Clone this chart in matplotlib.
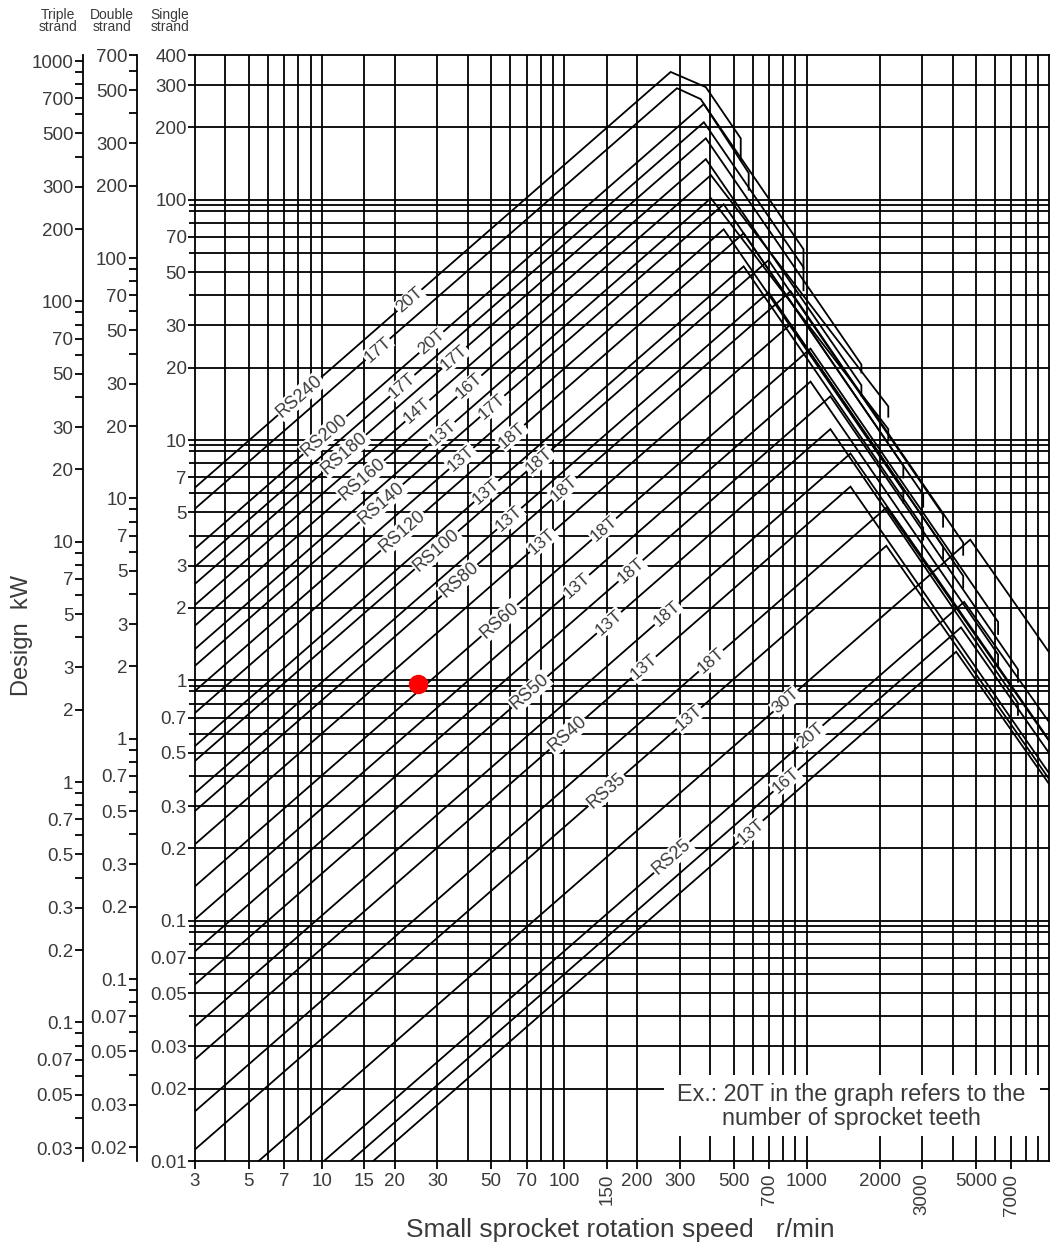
import numpy as np
import matplotlib.pyplot as plt
from matplotlib.patches import Rectangle
from matplotlib.ticker import FixedLocator, FixedFormatter, NullLocator

plt.rcParams['font.family'] = ['Liberation Sans', 'DejaVu Sans']

TEXT = '#3a3a3a'
LW = 1.3

# axis ranges / ticks
X_TICKS = [3, 5, 7, 10, 15, 20, 30, 50, 70, 100, 150, 200, 300, 500, 700,
           1000, 2000, 3000, 5000, 7000]
X_ROTATED = [150, 700, 3000, 7000]
GRID_RPM = [4, 5, 6, 7, 8, 9, 10, 15, 20, 30, 40, 50, 60, 70, 80, 90, 100, 150,
            200, 300, 400, 500, 600, 700, 800, 900, 1000, 2000, 3000, 4000,
            5000, 6000, 7000, 8000, 9000]
KW_TICKS = [400, 300, 200, 100, 70, 50, 30, 20, 10, 7, 5, 3, 2, 1, 0.7, 0.5,
            0.3, 0.2, 0.1, 0.07, 0.05, 0.03, 0.02, 0.01]
GRID_MANT = [1, 0.95, 0.9, 0.8, 0.7, 0.6, 0.5, 0.4, 0.3, 0.2]
GRID_KW = [300, 200] + [m * 10.0 ** k for k in (2, 1, 0, -1) for m in GRID_MANT]

DOUBLE_TICKS = [700, 500, 300, 200, 100, 70, 50, 30, 20, 10, 7, 5, 3, 2, 1,
                0.7, 0.5, 0.3, 0.2, 0.1, 0.07, 0.05, 0.03, 0.02]
TRIPLE_TICKS = [1000, 700, 500, 300, 200, 100, 70, 50, 30, 20, 10, 7, 5, 3, 2,
                1, 0.7, 0.5, 0.3, 0.2, 0.1, 0.07, 0.05, 0.03]
MINOR_MANT = [9, 8, 6, 4]

# chain rating lines (rpm / kW)
LINE_CHAIN = ['RS240', 'RS240', 'RS200', 'RS200', 'RS180', 'RS180', 'RS160', 'RS160',
              'RS140', 'RS140', 'RS120', 'RS120', 'RS100', 'RS100', 'RS80', 'RS80',
              'RS60', 'RS60', 'RS50', 'RS50', 'RS40', 'RS40', 'RS35', 'RS35',
              'RS25', 'RS25', 'RS25', 'RS25']
LINE_TEETH = ['20T', '17T', '20T', '17T', '17T', '14T', '16T', '13T',
              '17T', '13T', '18T', '13T', '18T', '13T', '18T', '13T',
              '18T', '13T', '18T', '13T', '18T', '13T', '18T', '13T',
              '30T', '20T', '16T', '13T']
KW_AT_3RPM = [6.34, 5.18, 3.53, 2.97, 2.52, 2.06, 1.69, 1.35,
              1.15, 0.904, 0.732, 0.533, 0.462, 0.340, 0.286, 0.208,
              0.139, 0.1014, 0.0746, 0.0543, 0.0363, 0.0265, 0.0161, 0.01117,
              0.00587, 0.0034, 0.00272, 0.00225]
PEAK_RPM = [275, 292, 377, 377, 384, 384, 403, 403,
            455, 455, 550, 550, 697, 697, 859, 859,
            1038, 1038, 1254, 1254, 1517, 1517, 2133, 2133,
            4732, 4467, 4335, 4140]
PEAK_KW = [340, 291, 250, 210, 180, 147.5, 126.5, 101.4,
           95.7, 75.3, 72.5, 52.8, 56.0, 41.2, 41.6, 30.3,
           24.0, 17.5, 15.2, 11.1, 8.79, 6.40, 5.23, 3.63,
           3.85, 2.12, 1.66, 1.315]
KNEE_RPM = [384, 366] + [None] * 26
KNEE_KW = [294, 262] + [None] * 26
END_RPM = [535, 577, 971, 971, 1683, 1683, 2173, 2173,
           2506, 2506, 3027, 3027, 3656, 3656, 4426, 4426,
           6166, 6166, 7447, 7447, 10000, 10000, 10000, 10000,
           10000, 10000, 10000, 10000]
END_KW = [180, 129, 62.2, 52.3, 20.6, 16.9, 13.8, 11.1,
          7.83, 6.16, 5.93, 4.32, 4.89, 3.60, 3.74, 2.72,
          1.75, 1.28, 1.11, 0.805, 0.565, 0.411, 0.560, 0.389,
          1.31, 0.671, 0.499, 0.371]
DROP_KW = [146, 110, 51.8, 42.0, 19.1, 15.3, 12.5, 9.95,
           6.98, 5.49, 5.28, 3.85, 4.36, 3.21, 3.33, 2.43,
           1.56, 1.14, 0.986, 0.718, None, None, None, None,
           None, None, None, None]

# chain name labels: (line index, rpm along the line)
CHAIN_LABEL_LINE = [0, 2, 4, 6, 8, 10, 12, 14, 16, 19, 21, 23, 25]
CHAIN_LABEL_RPM = [8.1, 10.3, 12.4, 14.7, 17.6, 21.5, 29.7, 37, 54, 72, 103, 149, 278]
# teeth labels
TEETH_LABEL_LINE = [1, 0, 3, 2, 5, 4, 7, 6, 9, 8, 11, 10, 13, 12, 15, 14,
                    17, 16, 19, 18, 21, 20, 23, 22, 27, 26, 25, 24]
TEETH_LABEL_RPM = [17, 23, 21.5, 28.3, 24.8, 35.2, 31.5, 40.6, 37.6, 50.5,
                   47.7, 61, 59.3, 78.8, 81, 100, 113, 146, 153, 188,
                   213, 265, 327, 403, 588, 819, 1038, 819]

EXAMPLE_RPM, EXAMPLE_KW = 25, 0.97

W, H = 1050, 1251
fig = plt.figure(figsize=(W / 100, H / 100), dpi=100)


def fx(px):
    return px / W


def fy(py):
    return 1 - py / H


TOP, BOT = 55, 1161
ax = fig.add_axes([fx(195), fy(BOT), fx(1049) - fx(195), fy(TOP) - fy(BOT)])
ax.set_xscale('log')
ax.set_yscale('log')
ax.set_xlim(3, 10000)
ax.set_ylim(0.01, 400)

ax.vlines(GRID_RPM, 0.01, 400, color='k', lw=LW, zorder=1)
ax.hlines(GRID_KW, 3, 10000, color='k', lw=LW, zorder=1)

lines_xy = []
for i in range(len(LINE_CHAIN)):
    xs = [3, PEAK_RPM[i]]
    ys = [KW_AT_3RPM[i], PEAK_KW[i]]
    if KNEE_RPM[i] is not None:
        xs.append(KNEE_RPM[i])
        ys.append(KNEE_KW[i])
    xs.append(END_RPM[i])
    ys.append(END_KW[i])
    if DROP_KW[i] is not None:
        xs.append(END_RPM[i])
        ys.append(DROP_KW[i])
    ax.plot(xs, ys, color='k', lw=LW, zorder=2, solid_joinstyle='miter')
    lines_xy.append((xs, ys))


def on_line(i, rpm):
    xs, ys = lines_xy[i]
    return 10 ** np.interp(np.log10(rpm), np.log10(xs[:2]), np.log10(ys[:2]))


label_box = dict(facecolor='white', edgecolor='none', pad=0.8)
for i, rpm in zip(CHAIN_LABEL_LINE, CHAIN_LABEL_RPM):
    ax.text(rpm, on_line(i, rpm), LINE_CHAIN[i], rotation=41, fontsize=13,
            color=TEXT, ha='center', va='center', rotation_mode='anchor',
            bbox=label_box, zorder=4)
for i, rpm in zip(TEETH_LABEL_LINE, TEETH_LABEL_RPM):
    ax.text(rpm, on_line(i, rpm), LINE_TEETH[i], rotation=41, fontsize=12.5,
            color=TEXT, ha='center', va='center', rotation_mode='anchor',
            bbox=label_box, zorder=4)

ax.plot(EXAMPLE_RPM, EXAMPLE_KW, 'o', color='#ff0000', ms=14, mec='none', zorder=5)

# note box
ax.add_patch(Rectangle((258, 0.01265), 9180 - 258, 0.0229 - 0.01265,
                       facecolor='white', edgecolor='none', zorder=3))
ax.text(1531, 0.01687, 'Ex.: 20T in the graph refers to the\nnumber of sprocket teeth',
        ha='center', va='center', fontsize=16.8, color=TEXT, zorder=4,
        linespacing=1.1)

for s in ax.spines.values():
    s.set_linewidth(LW)
    s.set_zorder(2.5)

ax.xaxis.set_major_locator(FixedLocator(X_TICKS))
ax.xaxis.set_major_formatter(FixedFormatter([str(v) for v in X_TICKS]))
ax.xaxis.set_minor_locator(NullLocator())
ax.tick_params(axis='x', which='major', direction='out', length=6, width=LW,
               labelsize=13.5, labelcolor=TEXT, pad=3)
for lab, v in zip(ax.get_xticklabels(), X_TICKS):
    if v in X_ROTATED:
        lab.set_rotation(90)


def fmt(v):
    return ('%g' % v)


def strand_axis(axis, ticks):
    axis.yaxis.set_major_locator(FixedLocator(ticks))
    axis.yaxis.set_major_formatter(FixedFormatter([fmt(v) for v in ticks]))
    lo, hi = axis.get_ylim()
    minors = [m * 10.0 ** k for k in range(-3, 4) for m in MINOR_MANT
              if lo <= m * 10.0 ** k <= hi]
    axis.yaxis.set_minor_locator(FixedLocator(minors))
    axis.tick_params(axis='y', which='major', direction='out', length=6,
                     width=LW, labelsize=13.5, labelcolor=TEXT, pad=1)
    axis.tick_params(axis='y', which='minor', direction='out', length=6,
                     width=LW)


ax.yaxis.set_major_locator(FixedLocator(KW_TICKS))
ax.yaxis.set_major_formatter(FixedFormatter([fmt(v) for v in KW_TICKS]))
ax.yaxis.set_minor_locator(FixedLocator([v for v in GRID_KW if v not in KW_TICKS]))
ax.tick_params(axis='y', which='major', direction='out', length=5, width=LW,
               labelsize=13.5, labelcolor=TEXT, pad=1)
ax.tick_params(axis='y', which='minor', direction='out', length=4, width=LW)

# double / triple strand scales
for px, lims, ticks in [(137, (0.0175, 700), DOUBLE_TICKS),
                        (83, (0.0265, 1060), TRIPLE_TICKS)]:
    a = fig.add_axes([fx(px), fy(BOT), 0.001, fy(TOP) - fy(BOT)])
    a.set_yscale('log')
    a.set_ylim(*lims)
    a.patch.set_visible(False)
    for name in ('top', 'right', 'bottom'):
        a.spines[name].set_visible(False)
    a.spines['left'].set_linewidth(LW)
    a.xaxis.set_visible(False)
    strand_axis(a, ticks)

for x, t in [(58, 'Triple\nstrand'), (112, 'Double\nstrand'), (170, 'Single\nstrand')]:
    fig.text(fx(x), fy(21), t, ha='center', va='center', fontsize=10,
             color=TEXT, linespacing=0.78)

fig.text(fx(22), fy(635), 'Design  kW', rotation=90, ha='center', va='center',
         fontsize=17, color=TEXT)
fig.text(fx(620), fy(1230), 'Small sprocket rotation speed   r/min',
         ha='center', va='center', fontsize=19, color=TEXT)

fig.savefig('out.png', dpi=100)
